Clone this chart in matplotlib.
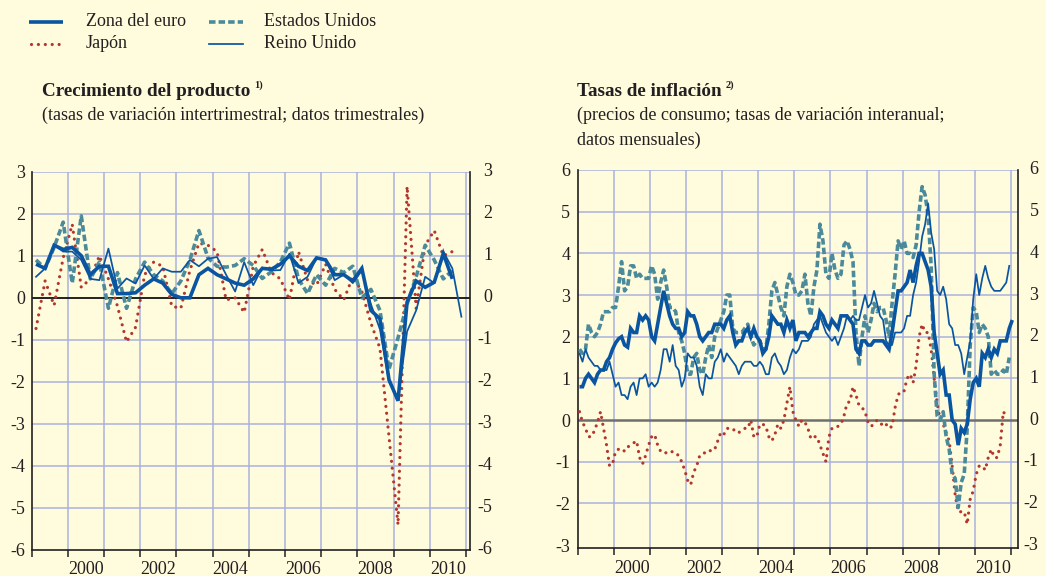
import matplotlib
matplotlib.use("Agg")
import matplotlib.pyplot as plt
import matplotlib.transforms as mtrans
from matplotlib.lines import Line2D
from matplotlib.ticker import FixedLocator, NullFormatter, FixedFormatter
import numpy as np

plt.rcParams['font.family'] = ['Liberation Serif', 'DejaVu Serif']
plt.rcParams['axes.unicode_minus'] = False

# ---------------- data ----------------
# Quarterly output growth (q-o-q %), first quarter = 1999Q1
gdp_start = 1999
gdp_euro = [0.8, 0.7, 1.25, 1.15, 1.2, 1.0, 0.55, 0.75, 0.75, 0.1, 0.1, 0.12,
            0.3, 0.45, 0.35, 0.08, 0.0, 0.0, 0.55, 0.7, 0.55, 0.45, 0.35, 0.3,
            0.45, 0.7, 0.68, 0.8, 1.0, 0.75, 0.65, 0.95, 0.9, 0.55, 0.55, 0.4,
            0.7, -0.3, -0.5, -1.95, -2.45, -0.1, 0.4, 0.25, 0.37, 1.05, 0.45]
gdp_us = [0.9, 0.7, 1.2, 1.8, 0.35, 1.95, 0.45, 0.85, -0.25, 0.6, -0.25, 0.45,
          0.85, 0.55, 0.4, 0.1, 0.4, 0.9, 1.6, 0.95, 0.75, 0.73, 0.77, 0.93,
          0.77, 0.46, 0.62, 0.85, 1.3, 0.45, 0.1, 0.55, 0.3, 0.7, 0.6, 0.75,
          0.0, 0.2, -0.3, -1.7, -0.95, -0.15, 0.5, 1.25, 0.9, 0.45, 0.65]
gdp_jp = [-0.73, 0.4, -0.18, 0.95, 1.75, 0.25, 0.45, 1.0, 0.45, -0.2, -1.05, -0.7,
          0.55, 0.85, 0.75, -0.2, -0.25, 0.65, 1.3, 1.25, 1.1, -0.05, 0.0, -0.35,
          0.75, 1.15, 0.6, 0.45, -0.05, 1.1, 0.42, 0.3, 0.8, 0.2, -0.05, 0.5,
          0.15, -0.6, -1.2, -3.3, -5.4, 2.65, -0.25, 1.25, 1.6, 1.0, 1.1]
gdp_uk = [0.5, 0.7, 1.25, 1.1, 1.1, 0.9, 0.45, 0.42, 1.17, 0.22, 0.46, 0.34,
          0.77, 0.45, 0.7, 0.62, 0.62, 0.9, 0.75, 0.93, 0.97, 0.55, 0.15, 0.85,
          0.3, 0.72, 0.65, 0.66, 1.05, 0.35, 0.5, 0.95, 0.92, 0.42, 0.55, 0.35,
          0.65, -0.15, -0.75, -2.0, -2.4, -0.8, -0.3, 0.5, 0.35, 1.1, 0.7, -0.45]

# Monthly consumer price inflation (y-o-y %), first month = January 1999
cpi_start = 1999
cpi_euro = [0.8, 0.8, 1.0, 1.1, 1.0, 0.9, 1.1, 1.2, 1.2, 1.4, 1.5, 1.7,
            1.85, 1.95, 2.0, 1.8, 1.75, 2.2, 2.1, 2.1, 2.5, 2.4, 2.5, 2.4,
            2.0, 1.9, 2.3, 2.7, 3.1, 2.8, 2.5, 2.3, 2.2, 2.2, 2.0, 2.1,
            2.6, 2.5, 2.5, 2.3, 2.0, 1.9, 2.0, 2.1, 2.1, 2.3, 2.3, 2.3,
            2.2, 2.4, 2.5, 2.1, 1.8, 1.9, 1.9, 2.1, 2.2, 2.0, 2.2, 2.0,
            1.9, 1.6, 1.7, 2.0, 2.5, 2.4, 2.3, 2.3, 2.1, 2.4, 2.2, 2.4,
            1.9, 2.1, 2.1, 2.1, 2.0, 2.1, 2.2, 2.2, 2.6, 2.5, 2.3, 2.2,
            2.4, 2.3, 2.2, 2.5, 2.5, 2.5, 2.4, 2.3, 1.7, 1.6, 1.9, 1.9,
            1.8, 1.8, 1.9, 1.9, 1.9, 1.9, 1.8, 1.7, 2.1, 2.6, 3.1, 3.1,
            3.2, 3.3, 3.6, 3.3, 3.7, 4.0, 4.0, 3.8, 3.6, 3.2, 2.1, 1.6,
            1.1, 1.2, 0.6, 0.6, 0.0, -0.1, -0.6, -0.2, -0.3, -0.1, 0.5, 0.9,
            1.0, 0.8, 1.6, 1.5, 1.7, 1.5, 1.7, 1.6, 1.9, 1.9, 1.9, 2.2,
            2.4]
cpi_us = [1.7, 1.6, 1.7, 2.3, 2.1, 2.0, 2.1, 2.3, 2.6, 2.6, 2.6, 2.7,
          2.7, 3.2, 3.8, 3.1, 3.2, 3.7, 3.7, 3.4, 3.5, 3.4, 3.4, 3.4,
          3.7, 3.5, 2.9, 3.3, 3.6, 3.2, 2.7, 2.7, 2.6, 2.1, 1.9, 1.6,
          1.1, 1.1, 1.5, 1.6, 1.2, 1.1, 1.5, 1.8, 1.5, 2.0, 2.2, 2.4,
          2.6, 3.0, 3.0, 2.2, 2.1, 2.1, 2.1, 2.2, 2.3, 2.0, 1.8, 1.9,
          1.9, 1.7, 1.7, 2.3, 3.1, 3.3, 3.0, 2.7, 2.5, 3.2, 3.5, 3.3,
          3.0, 3.0, 3.1, 3.5, 2.8, 2.5, 3.2, 3.6, 4.7, 4.3, 3.5, 3.4,
          4.0, 3.6, 3.4, 3.5, 4.2, 4.3, 4.1, 3.8, 2.1, 1.3, 2.0, 2.5,
          2.1, 2.4, 2.8, 2.6, 2.7, 2.7, 2.4, 2.0, 2.8, 3.5, 4.3, 4.1,
          4.3, 4.0, 4.0, 3.9, 4.2, 5.0, 5.6, 5.4, 4.9, 3.7, 1.1, 0.1,
          0.0, 0.2, -0.4, -0.7, -1.3, -1.4, -2.1, -1.5, -1.3, -0.2, 1.8, 2.7,
          2.6, 2.1, 2.3, 2.2, 2.0, 1.1, 1.2, 1.1, 1.1, 1.2, 1.1, 1.5]
cpi_jp = [0.2, -0.05, -0.2, -0.4, -0.4, -0.25, -0.05, 0.2, -0.2, -0.6, -1.1, -1.05,
          -0.75, -0.7, -0.68, -0.75, -0.65, -0.6, -0.55, -0.5, -0.9, -1.05, -0.85, -0.6,
          -0.4, -0.35, -0.6, -0.75, -0.8, -0.78, -0.8, -0.75, -0.8, -0.85, -1.0, -1.2,
          -1.45, -1.55, -1.25, -1.1, -0.85, -0.8, -0.78, -0.72, -0.75, -0.7, -0.5, -0.3,
          -0.35, -0.2, -0.2, -0.2, -0.3, -0.3, -0.25, -0.2, -0.2, 0.0, -0.4, -0.4,
          -0.1, -0.1, -0.15, -0.4, -0.5, -0.35, -0.1, -0.2, 0.0, 0.4, 0.8, 0.2,
          0.0, -0.15, 0.0, -0.05, -0.2, -0.45, -0.4, -0.4, -0.6, -0.8, -1.0, -0.4,
          -0.2, -0.2, -0.15, -0.1, 0.1, 0.4, 0.45, 0.8, 0.6, 0.35, 0.3, 0.2,
          -0.05, -0.15, -0.1, 0.0, -0.05, -0.15, -0.1, -0.2, -0.15, 0.3, 0.6, 0.7,
          0.7, 1.0, 1.1, 0.9, 1.3, 2.0, 2.3, 2.1, 2.1, 1.7, 1.0, 0.4,
          0.0, -0.1, -0.3, -0.5, -1.1, -1.8, -2.2, -2.2, -2.2, -2.5, -1.9, -1.7,
          -1.3, -1.1, -1.1, -1.2, -0.9, -0.7, -0.9, -0.9, -0.6, 0.2, 0.1]
cpi_uk = [1.6, 1.4, 1.7, 1.5, 1.4, 1.3, 1.3, 1.2, 1.2, 1.2, 1.4, 1.1,
          0.8, 0.9, 0.6, 0.6, 0.5, 0.8, 0.9, 0.6, 1.0, 1.0, 1.1, 0.8,
          0.9, 0.8, 0.9, 1.2, 1.7, 1.7, 1.4, 1.8, 1.3, 1.2, 0.8, 1.0,
          1.6, 1.5, 1.5, 1.3, 0.8, 0.6, 1.1, 1.0, 1.0, 1.4, 1.5, 1.7,
          1.4, 1.6, 1.5, 1.4, 1.3, 1.1, 1.3, 1.4, 1.4, 1.4, 1.3, 1.3,
          1.4, 1.3, 1.1, 1.1, 1.5, 1.6, 1.4, 1.3, 1.1, 1.2, 1.5, 1.7,
          1.6, 1.7, 1.9, 1.9, 1.9, 2.0, 2.3, 2.4, 2.5, 2.3, 2.1, 2.0,
          1.9, 2.0, 1.8, 2.0, 2.2, 2.5, 2.4, 2.5, 2.4, 2.4, 2.7, 3.0,
          2.7, 2.8, 3.1, 2.8, 2.5, 2.4, 1.9, 1.8, 1.8, 2.1, 2.1, 2.1,
          2.2, 2.5, 2.5, 3.0, 3.3, 3.8, 4.4, 4.7, 5.2, 4.5, 4.1, 3.1,
          3.0, 3.2, 2.9, 2.3, 2.2, 1.8, 1.8, 1.6, 1.1, 1.5, 1.9, 2.9,
          3.5, 3.0, 3.4, 3.7, 3.4, 3.2, 3.1, 3.1, 3.1, 3.2, 3.3, 3.7]

series_names = ["Zona del euro", "Japón", "Estados Unidos", "Reino Unido"]
year_labels = ["2000", "2002", "2004", "2006", "2008", "2010"]

# ---------------- style ----------------
BG = "#FFFBDD"
GRID = "#A9B2DC"
TXT = "#231F20"
C_EURO = "#0A55A2"
C_US = "#4B8A9B"
C_JP = "#B3372C"
C_UK = "#0A55A2"
FS = 13

style = {
    "Zona del euro": dict(color=C_EURO, lw=2.6, ls="-", solid_joinstyle="miter", solid_capstyle="butt"),
    "Estados Unidos": dict(color=C_US, lw=2.6, ls=(0, (1.8, 0.85)), dash_capstyle="butt"),
    "Japón": dict(color=C_JP, lw=2.3, ls=(0, (0.01, 2.15)), dash_capstyle="round"),
    "Reino Unido": dict(color=C_UK, lw=1.25, ls="-"),
}

W, H = 1046, 576
fig = plt.figure(figsize=(W / 100, H / 100), dpi=100, facecolor=BG)


def rect(x0, x1, ytop, ybot):
    return [x0 / W, 1 - ybot / H, (x1 - x0) / W, (ybot - ytop) / H]


def quarterly_x(n, start):
    return start + 0.125 + 0.25 * np.arange(n)


def monthly_x(n, start):
    return start + (np.arange(n) + 0.5) / 12.0


def setup_axes(ax, yticks, ylim, xlim, zero_color, zero_lw, lpad, rshift_px, xpad):
    ax.set_facecolor(BG)
    ax.set_xlim(*xlim)
    ax.set_ylim(*ylim)
    ax.set_yticks(yticks)
    ax.set_yticklabels([str(v) for v in yticks])
    ax.tick_params(axis="y", which="both", length=0, labelsize=FS, colors=TXT,
                   left=False, right=False, labelleft=True, labelright=False, pad=lpad)
    # right-hand labels, right-aligned
    tr = mtrans.blended_transform_factory(ax.transAxes, ax.transData) + \
        mtrans.ScaledTranslation(rshift_px / 100.0, 0, fig.dpi_scale_trans)
    for v in yticks:
        ax.text(1.0, v, str(v), transform=tr, ha="right", va="center",
                fontsize=FS, color=TXT, clip_on=False)
    # x: year-boundary ticks and centred year labels
    years = list(range(1999, 2012))
    ax.xaxis.set_major_locator(FixedLocator(years))
    ax.xaxis.set_major_formatter(NullFormatter())
    ax.xaxis.set_minor_locator(FixedLocator([int(y) + 0.5 for y in year_labels]))
    ax.xaxis.set_minor_formatter(FixedFormatter(year_labels))
    ax.tick_params(axis="x", which="major", direction="out", length=5.0, width=1.1,
                   color=TXT, top=False)
    ax.tick_params(axis="x", which="minor", length=0, labelsize=FS, colors=TXT, pad=xpad)
    # grid
    for y in yticks:
        if y != 0 and y != yticks[0]:
            ax.axhline(y, color=GRID, lw=1.1, zorder=0.5)
    for yr in range(2000, 2012):
        if yr < xlim[1]:
            ax.axvline(yr, color=GRID, lw=1.1, zorder=0.5)
    ax.axhline(0, color=zero_color, lw=zero_lw, zorder=1)
    for s in ("left", "right", "bottom"):
        ax.spines[s].set_color(TXT)
        ax.spines[s].set_linewidth(1.2)
    ax.spines["top"].set_visible(False)


# ---------------- left panel ----------------
axL = fig.add_axes(rect(31.5, 469.9, 171.7, 550.0))
setup_axes(axL, list(range(-6, 4)), (-6.0, 3.0), (1999.0, 2011.11), "#111111", 1.3,
           4.5, 22.5, 7.8)
qx = quarterly_x(len(gdp_uk), gdp_start)
data_q = {"Japón": gdp_jp, "Estados Unidos": gdp_us, "Reino Unido": gdp_uk, "Zona del euro": gdp_euro}
for name in ["Japón", "Estados Unidos", "Reino Unido", "Zona del euro"]:
    vals = data_q[name]
    axL.plot(qx[:len(vals)], vals, zorder=3, **style[name])

# ---------------- right panel ----------------
axR = fig.add_axes(rect(578.0, 1018.0, 170.0, 548.0))
setup_axes(axR, list(range(-3, 7)), (-3.07, 6.0), (1999.0, 2011.2), "#6E6E6E", 1.8,
           5.5, 20.5, 8.8)
data_m = {"Japón": cpi_jp, "Estados Unidos": cpi_us, "Reino Unido": cpi_uk, "Zona del euro": cpi_euro}
for name in ["Japón", "Estados Unidos", "Reino Unido", "Zona del euro"]:
    vals = data_m[name]
    axR.plot(monthly_x(len(vals), cpi_start), vals, zorder=3, **style[name])

# ---------------- titles ----------------
def fx(px):
    return px / W


def fy(py):
    return 1 - py / H


renderer = fig.canvas.get_renderer()


def title_with_sup(x, y, text, sup):
    t = fig.text(fx(x), fy(y), text, fontsize=13.8, fontweight="bold", color=TXT,
                 ha="left", va="center")
    bb = t.get_window_extent(renderer=renderer)
    fig.text(bb.x1 / W + 4 / W, fy(y - 6), sup, fontsize=7.5, fontweight="bold",
             color=TXT, ha="left", va="center")


title_with_sup(42, 91, "Crecimiento del producto", "1)")
fig.text(fx(42), fy(115), "(tasas de variación intertrimestral; datos trimestrales)",
         fontsize=FS, color=TXT, ha="left", va="center")
title_with_sup(577, 91, "Tasas de inflación", "2)")
fig.text(fx(577), fy(115), "(precios de consumo; tasas de variación interanual;",
         fontsize=FS, color=TXT, ha="left", va="center")
fig.text(fx(577), fy(140), "datos mensuales)", fontsize=FS, color=TXT,
         ha="left", va="center")

# ---------------- legend ----------------
legend_items = [
    ("Zona del euro", 29, 63, 22, 86),
    ("Japón", 31, 63, 43.5, 86),
    ("Estados Unidos", 209, 243, 22, 264),
    ("Reino Unido", 209, 243, 43.5, 264),
]
for name, x0, x1, y, tx in legend_items:
    fig.add_artist(Line2D([fx(x0), fx(x1)], [fy(y), fy(y)], transform=fig.transFigure,
                          **style[name]))
    fig.text(fx(tx), fy(y), name, fontsize=FS, color=TXT, ha="left", va="center")

fig.savefig("out.png", dpi=100, facecolor=BG)
